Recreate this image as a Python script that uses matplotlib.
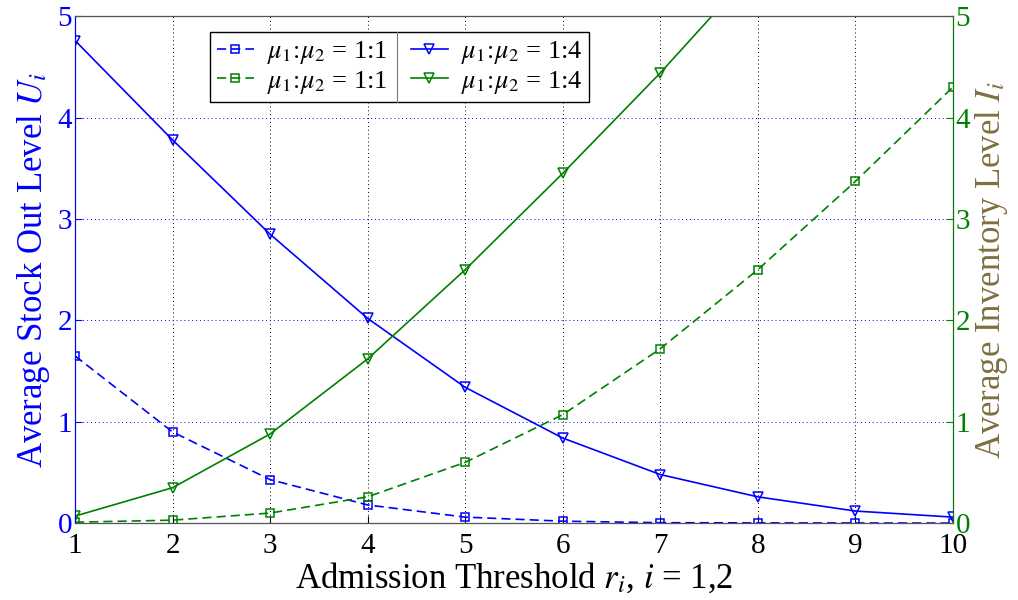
import numpy as np
import matplotlib
matplotlib.use("Agg")
import matplotlib.pyplot as plt
from matplotlib.lines import Line2D

plt.rcParams['font.family'] = ['Liberation Serif', 'DejaVu Serif']
plt.rcParams['mathtext.fontset'] = 'stix'
plt.rcParams['lines.dashed_pattern'] = [5.5, 3.0]

r = [1, 2, 3, 4, 5, 6, 7, 8, 9, 10]
# stock out level U_i
U_11 = [1.65, 0.90, 0.43, 0.18, 0.06, 0.02, 0.005, 0.003, 0.002, 0.001]
U_14 = [4.76, 3.78, 2.85, 2.02, 1.34, 0.84, 0.48, 0.26, 0.12, 0.06]
# inventory level I_i
I_11 = [0.01, 0.03, 0.10, 0.26, 0.60, 1.07, 1.72, 2.50, 3.37, 4.30]
I_14 = [0.07, 0.35, 0.88, 1.62, 2.50, 3.45, 4.44, 5.50, 6.60, 7.70]

lbl_11 = r'$\mu_1\!:\!\mu_2$ = 1:1'
lbl_14 = r'$\mu_1\!:\!\mu_2$ = 1:4'
blue = '#0000ff'
green = '#008000'

fig = plt.figure(figsize=(10.18, 6), dpi=100)
ax = fig.add_axes([0.0737, 0.128, 0.8623, 0.845])
ax2 = ax.twinx()

l1, = ax.plot(r, U_11, '--', color=blue, lw=1.2, marker='s', ms=6, mfc='none', mew=1.1, label=lbl_11)
l3, = ax.plot(r, U_14, '-', color=blue, lw=1.2, marker='v', ms=7, mfc='none', mew=1.1, label=lbl_14)
l2, = ax2.plot(r, I_11, '--', color=green, lw=1.2, marker='s', ms=6, mfc='none', mew=1.1, label=lbl_11)
l4, = ax2.plot(r, I_14, '-', color=green, lw=1.2, marker='v', ms=7, mfc='none', mew=1.1, label=lbl_14)

ax.set_xlim(1, 10)
ax.set_ylim(0, 5)
ax2.set_ylim(0, 5)
ax.set_xticks(r)
ax.set_yticks(range(6))
ax2.set_yticks(range(6))

ax.grid(axis='y', color=blue, ls=(0, (1, 3)), lw=0.7)
ax.grid(axis='x', color='black', ls=(0, (1, 3)), lw=0.7)

ax.tick_params(axis='x', labelsize=21, colors='black', direction='in', length=5, pad=7)
ax.tick_params(axis='y', labelsize=21, colors=blue, direction='in', length=5, pad=2)
ax2.tick_params(axis='y', labelsize=21, colors=green, direction='in', length=5, pad=2)

for s in ['top', 'bottom']:
    ax2.spines[s].set_color('#555555')
ax2.spines['left'].set_color(blue)
ax2.spines['right'].set_color(green)

ax.set_xlabel(r'Admission Threshold $r_i$, $i$ = 1,2', fontsize=25, labelpad=2)
ax.set_ylabel(r'Average Stock Out Level $U_i$', fontsize=25, color=blue, labelpad=4)
ax2.set_ylabel(r'Average Inventory Level $I_i$', fontsize=25, color='#7f6f3f', labelpad=2)

leg = ax2.legend([l1, l2, l3, l4], [lbl_11, lbl_11, lbl_14, lbl_14], ncol=2,
                 loc='upper left', bbox_to_anchor=(0.154, 0.968), borderaxespad=0,
                 fontsize=19, frameon=True, fancybox=False, edgecolor='black',
                 framealpha=1, handlelength=1.4, handletextpad=0.5, columnspacing=0.9,
                 borderpad=0.25, labelspacing=0.1)
leg.get_frame().set_linewidth(1.0)

# thin divider between the two legend columns
fig.canvas.draw()
rend = fig.canvas.get_renderer()
texts = leg.get_texts()
frame = leg.get_frame().get_window_extent(rend)
x_left = texts[0].get_window_extent(rend).x1
x_right = leg.legend_handles[2].get_window_extent(rend).x0
xd = fig.transFigure.inverted().transform(((x_left + x_right) / 2, 0))[0]
y0, y1 = fig.transFigure.inverted().transform([(0, frame.y0), (0, frame.y1)])[:, 1]
fig.add_artist(Line2D([xd, xd], [y0, y1], color='#777777', lw=0.8, transform=fig.transFigure, zorder=10))

fig.savefig('out.png', dpi=100)
